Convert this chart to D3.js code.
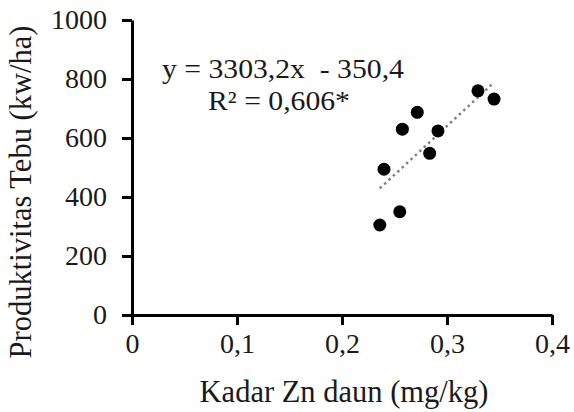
<!DOCTYPE html>
<html>
<head>
<meta charset="utf-8">
<script src="https://cdn.jsdelivr.net/npm/d3@7"></script>
<style>
  body { margin: 0; background: #fff; }
</style>
</head>
<body>
<div id="chart"></div>
<script>
var svgWidth = 574;
var svgHeight = 412;
var serif = "Liberation Serif";

var margin = { top: 20, right: 22, bottom: 97, left: 132 };

var width = svgWidth - margin.left - margin.right;
var height = svgHeight - margin.top - margin.bottom;

// data
var znLeaf = [0.236, 0.240, 0.255, 0.2575, 0.2717, 0.2835, 0.2914, 0.3295, 0.3448];
var productivity = [305, 494, 350, 630, 687, 548, 624, 760, 732];

var xTicks = [0, 0.1, 0.2, 0.3, 0.4];
var xTickLabels = ["0", "0,1", "0,2", "0,3", "0,4"];
var yTicks = [0, 200, 400, 600, 800, 1000];
var yTickLabels = ["0", "200", "400", "600", "800", "1000"];

var slope = 3303.2;
var intercept = -350.4;

var svg = d3.select("#chart")
    .append("svg")
    .attr("width", svgWidth)
    .attr("height", svgHeight);

var chartGroup = svg.append("g")
    .attr("transform", `translate(${margin.left}, ${margin.top})`);

var xScale = d3.scaleLinear().domain([0, 0.4]).range([0, width]);
var yScale = d3.scaleLinear().domain([0, 1000]).range([height, 0]);

var bottomAxis = d3.axisBottom(xScale)
    .tickValues(xTicks)
    .tickFormat((d, i) => xTickLabels[i])
    .tickSize(10)
    .tickSizeOuter(0)
    .tickPadding(8);

var leftAxis = d3.axisLeft(yScale)
    .tickValues(yTicks)
    .tickFormat((d, i) => yTickLabels[i])
    .tickSize(10)
    .tickSizeOuter(0)
    .tickPadding(15);

var xAxisG = chartGroup.append("g")
    .attr("transform", `translate(0, ${height})`)
    .call(bottomAxis);

var yAxisG = chartGroup.append("g")
    .call(leftAxis);

[xAxisG, yAxisG].forEach(function (g) {
    g.attr("font-family", serif).attr("font-size", 28);
    g.select(".domain").attr("stroke", "#000").attr("stroke-width", 3);
    g.selectAll(".tick line").attr("stroke", "#000").attr("stroke-width", 3);
    g.selectAll(".tick text")
        .attr("font-family", serif)
        .attr("font-size", 28)
        .attr("fill", "#1a1a1a");
});

// trendline over the data range
var xr = d3.extent(znLeaf);
chartGroup.append("line")
    .attr("x1", xScale(xr[0]))
    .attr("y1", yScale(slope * xr[0] + intercept))
    .attr("x2", xScale(xr[1]))
    .attr("y2", yScale(slope * xr[1] + intercept))
    .attr("stroke", "#7f7f7f")
    .attr("stroke-width", 2.5)
    .attr("stroke-dasharray", "2.5,3.5");

chartGroup.selectAll("circle")
    .data(znLeaf)
    .enter()
    .append("circle")
    .attr("cx", d => xScale(d))
    .attr("cy", (d, i) => yScale(productivity[i]))
    .attr("r", 6.5)
    .attr("fill", "#000");

// equation (slightly wide type, as in the original)
svg.append("text")
    .attr("transform", "translate(162, 78) scale(1.1, 1)")
    .attr("font-family", serif)
    .attr("font-size", 27)
    .attr("fill", "#1a1a1a")
    .attr("xml:space", "preserve")
    .text("y = 3303,2x  - 350,4");

svg.append("text")
    .attr("transform", "translate(208, 110) scale(1.1, 1)")
    .attr("font-family", serif)
    .attr("font-size", 27)
    .attr("fill", "#1a1a1a")
    .attr("xml:space", "preserve")
    .text("R² = 0,606*");

// axis titles
svg.append("text")
    .attr("transform", `translate(31, 192) rotate(-90)`)
    .attr("text-anchor", "middle")
    .attr("font-family", serif)
    .attr("font-size", 30.5)
    .attr("fill", "#1a1a1a")
    .text("Produktivitas Tebu (kw/ha)");

svg.append("text")
    .attr("x", 344)
    .attr("y", 402)
    .attr("text-anchor", "middle")
    .attr("font-family", serif)
    .attr("font-size", 30.5)
    .attr("fill", "#1a1a1a")
    .text("Kadar Zn daun (mg/kg)");
</script>
</body>
</html>
